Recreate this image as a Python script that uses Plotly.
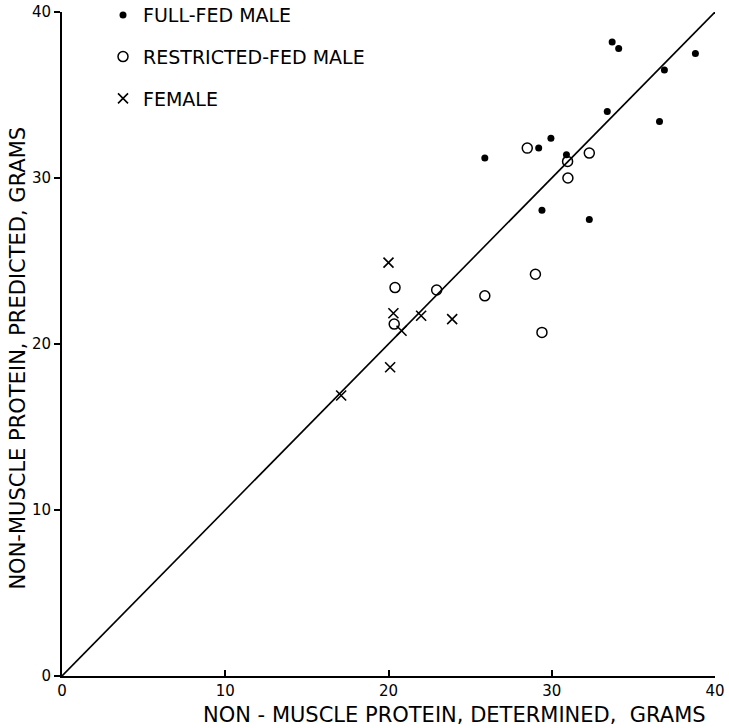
import plotly.graph_objects as go

# Full-fed male (filled circles)
full_x = [25.9, 29.2, 29.95, 30.9, 33.4, 36.6, 36.9, 29.4, 32.3, 33.7, 34.1, 38.8]
full_y = [31.2, 31.8, 32.4, 31.4, 34.0, 33.4, 36.5, 28.05, 27.5, 38.2, 37.8, 37.5]

# Restricted-fed male (open circles)
restr_x = [28.5, 30.97, 32.3, 30.99, 20.4, 22.95, 25.9, 29.0, 29.4, 20.35]
restr_y = [31.8, 31.0, 31.5, 30.0, 23.4, 23.25, 22.9, 24.2, 20.7, 21.2]

# Female (x)
fem_x = [20.0, 20.3, 22.0, 20.8, 23.9, 20.1, 17.1]
fem_y = [24.9, 21.85, 21.7, 20.8, 21.5, 18.6, 16.9]

# Line of identity
line_x = [0, 40]
line_y = [0, 40]

tick_vals = [0, 10, 20, 30, 40]
tick_text = ["0", "10", "20", "30", "40"]

FONT = "DejaVu Sans"

fig = go.Figure()
fig.add_trace(go.Scatter(x=line_x, y=line_y, mode="lines",
                         line=dict(color="black", width=1.6), showlegend=False,
                         hoverinfo="skip"))
fig.add_trace(go.Scatter(x=full_x, y=full_y, mode="markers", name="FULL-FED MALE",
                         legendgroup="a",
                         marker=dict(symbol="circle", size=7, color="black")))
fig.add_trace(go.Scatter(x=restr_x, y=restr_y, mode="markers", name="RESTRICTED-FED MALE",
                         legendgroup="b",
                         marker=dict(symbol="circle-open", size=10, color="black",
                                     line=dict(width=1.5, color="black"))))
fig.add_trace(go.Scatter(x=fem_x, y=fem_y, mode="markers", name="FEMALE",
                         legendgroup="c",
                         marker=dict(symbol="x-thin", size=10, color="black",
                                     line=dict(width=1.6, color="black"))))

fig.update_layout(
    width=729, height=728,
    margin=dict(l=62, r=14, t=12, b=52, autoexpand=False),
    paper_bgcolor="white", plot_bgcolor="white",
    font=dict(family=FONT, color="black", size=14),
    legend=dict(x=0.0628, y=1.024, xanchor="left", yanchor="top",
                bgcolor="rgba(0,0,0,0)", font=dict(size=19, family=FONT),
                tracegroupgap=14, itemwidth=30),
    xaxis=dict(range=[0, 40], tickvals=tick_vals, ticktext=tick_text,
               showgrid=False, zeroline=False, showline=True, automargin=False,
               linecolor="black", linewidth=2, ticks="inside", ticklen=6,
               tickwidth=1.5, tickcolor="black", mirror=False,
               tickfont=dict(size=15)),
    yaxis=dict(range=[0, 40], tickvals=tick_vals, ticktext=tick_text,
               showgrid=False, zeroline=False, showline=True, automargin=False,
               linecolor="black", linewidth=2, ticks="outside", ticklen=6,
               tickwidth=1.5, tickcolor="black", mirror=False,
               tickfont=dict(size=15)),
    annotations=[
        dict(text="NON - MUSCLE PROTEIN, DETERMINED,  GRAMS", xref="paper", yref="paper",
             x=(454 - 62) / 653, y=-0.038, xanchor="center", yanchor="top",
             showarrow=False, font=dict(size=21, family=FONT)),
        dict(text="NON-MUSCLE PROTEIN, PREDICTED, GRAMS", xref="paper", yref="paper",
             x=-0.068, y=(676 - 358) / 664, xanchor="center", yanchor="middle",
             textangle=-90, showarrow=False, font=dict(size=21, family=FONT)),
    ],
)

fig.write_html("out.html")
